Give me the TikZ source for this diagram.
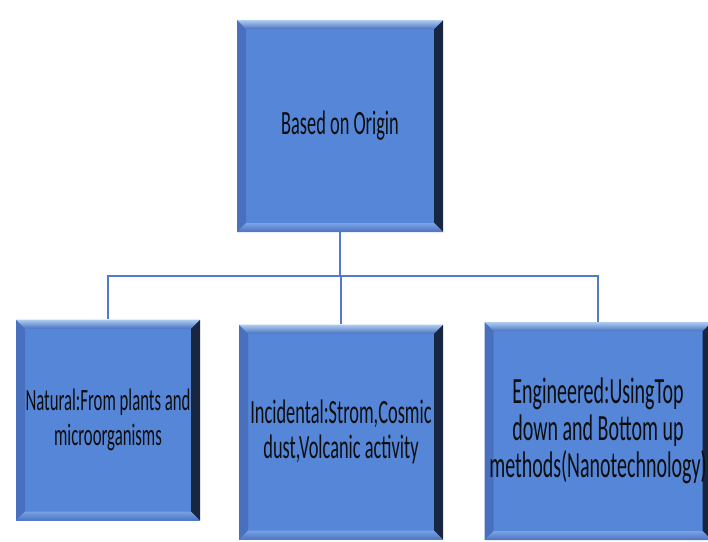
\documentclass[tikz,border=0pt]{standalone}
\usepackage{xcolor}
\usepackage{fontspec}
\newfontfamily\boxfont[FakeStretch=0.54]{Carlito}
\usepackage{tikz}
\usetikzlibrary{calc}
\usetikzlibrary{positioning}
\definecolor{faceblue}{RGB}{86,134,216}
\definecolor{bevlight}{RGB}{175,205,242}
\definecolor{bevmid}{RGB}{76,116,192}
\definecolor{bevdark}{RGB}{24,38,66}
\definecolor{bevlow}{RGB}{122,162,230}
\definecolor{bevleft}{RGB}{72,112,190}
\definecolor{linkblue}{RGB}{82,122,200}
\newcommand{\bw}{9pt}
\tikzset{
 bevelbox/.style={fill=faceblue, inner sep=0pt, align=center, text=black!95,
  font=\boxfont\fontsize{34}{35}\selectfont,
  path picture={
   \fill[bevleft] (path picture bounding box.north west) -- ([xshift=\bw,yshift=-\bw]path picture bounding box.north west)
     -- ([xshift=\bw,yshift=\bw]path picture bounding box.south west) -- (path picture bounding box.south west) -- cycle;
   \fill[bevdark] (path picture bounding box.north east) -- ([xshift=-\bw,yshift=-\bw]path picture bounding box.north east)
     -- ([xshift=-\bw,yshift=\bw]path picture bounding box.south east) -- (path picture bounding box.south east) -- cycle;
   \shade[top color=bevlight, bottom color=bevmid] (path picture bounding box.north west) -- (path picture bounding box.north east)
     -- ([xshift=-\bw,yshift=-\bw]path picture bounding box.north east) -- ([xshift=\bw,yshift=-\bw]path picture bounding box.north west) -- cycle;
   \shade[top color=bevlow, bottom color=bevmid] (path picture bounding box.south west) -- (path picture bounding box.south east)
     -- ([xshift=-\bw,yshift=\bw]path picture bounding box.south east) -- ([xshift=\bw,yshift=\bw]path picture bounding box.south west) -- cycle;
  }},
 link/.style={linkblue, line width=1.5pt}
}

\begin{document}
\begin{tikzpicture}[x=1pt,y=-1pt]
\clip (0,0) rectangle (708,541);
\fill[white] (0,0) rectangle (708,541);
\node[bevelbox, minimum width=206, minimum height=212] (origin) at (340,126) {Based on Origin};
\node[bevelbox, minimum width=184, minimum height=201, font=\boxfont\fontsize{31}{35}\selectfont] (natural) at (108,420) {Natural:From plants and\\microorganisms};
\node[bevelbox, minimum width=204, minimum height=215] (incidental) at (341,432) {Incidental:Strom,Cosmic\\dust,Volcanic activity};
\node[bevelbox, minimum width=227, minimum height=218, font=\boxfont\fontsize{37}{37}\selectfont] (engineered) at (598,431) {Engineered:UsingTop\\down and Bottom up\\methods(Nanotechnology)};
\draw[link] (origin.south) -- ++(0,44) -| (natural.north);
\draw[link] (origin.south) -- ++(0,44) -| (engineered.north);
\draw[link] (origin.south) -- ++(0,44) -| (incidental.north);
\end{tikzpicture}
\end{document}
